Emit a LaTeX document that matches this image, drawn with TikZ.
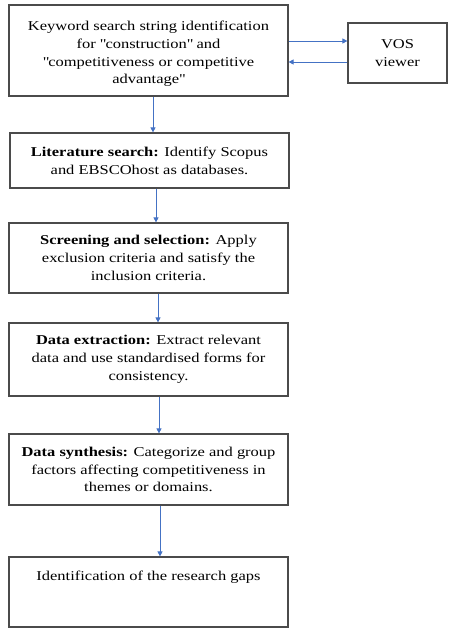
\documentclass[tikz,border=0pt]{standalone}
\usepackage{fontspec}
\setmainfont[FakeStretch=1.22]{Liberation Serif}
\usetikzlibrary{arrows.meta}
\definecolor{arrblue}{RGB}{68,114,196}
\definecolor{boxgray}{RGB}{75,75,75}
\newcommand{\qq}{\textquotedbl}
\tikzset{
  box/.style={draw=boxgray, line width=1.2pt, fill=white, align=center, inner sep=2pt,
    font=\fontsize{13.5}{17.8}\selectfont},
  lbl/.style={align=center, inner sep=0pt, font=\fontsize{13.5}{17.8}\selectfont},
  arr/.style={draw=arrblue, line width=0.8pt, -{Triangle[length=5pt,width=5pt]}}
}
\begin{document}
\begin{tikzpicture}[x=1pt,y=-1pt]
\useasboundingbox (0,0) rectangle (448,628);
\node[box, minimum width=279pt, minimum height=91pt] (b1) at (148.5,50.5) {};
\node[lbl] (t1) at (148.5,54)
  {Keyword search string identification\\for \qq construction\qq{} and\\\qq competitiveness or competitive\\advantage\qq};
\node[box, minimum width=99pt, minimum height=60pt] (vos) at (397.5,53) {VOS\\viewer};
\node[box, minimum width=279pt, minimum height=55pt] (b2) at (149.5,160.5)
  {\textbf{Literature search:} Identify Scopus\\and EBSCOhost as databases.};
\node[box, minimum width=279pt, minimum height=70pt] (b3) at (148.5,258)
  {\textbf{Screening and selection:} Apply\\exclusion criteria and satisfy the\\inclusion criteria.};
\node[box, minimum width=279pt, minimum height=73pt] (b4) at (148.5,359.5)
  {\textbf{Data extraction:} Extract relevant\\data and use standardised forms for\\consistency.};
\node[box, minimum width=279pt, minimum height=71pt] (b5) at (148.5,469.5)
  {\textbf{Data synthesis:} Categorize and group\\factors affecting competitiveness in\\themes or domains.};
\node[box, minimum width=279pt, minimum height=70pt] (b6) at (148.5,592) {};
\node[lbl] (t6) at (b6.north |- 0,577) {Identification of the research gaps};
\draw[arr] ([yshift=9.5pt]b1.east) -- ([yshift=9.5pt]b1.east -| vos.west);
\draw[arr] ([yshift=-11.5pt]b1.east -| vos.west) -- ([yshift=-11.5pt]b1.east);
\draw[arr] ([xshift=4.5pt]b1.south) -- ([xshift=4.5pt]b1.south |- b2.north);
\draw[arr] ([xshift=6.5pt]b2.south) -- ([xshift=6.5pt]b2.south |- b3.north);
\draw[arr] ([xshift=9.5pt]b3.south) -- ([xshift=9.5pt]b3.south |- b4.north);
\draw[arr] ([xshift=10.5pt]b4.south) -- ([xshift=10.5pt]b4.south |- b5.north);
\draw[arr] ([xshift=11.5pt]b5.south) -- ([xshift=11.5pt]b5.south |- b6.north);
\end{tikzpicture}
\end{document}
